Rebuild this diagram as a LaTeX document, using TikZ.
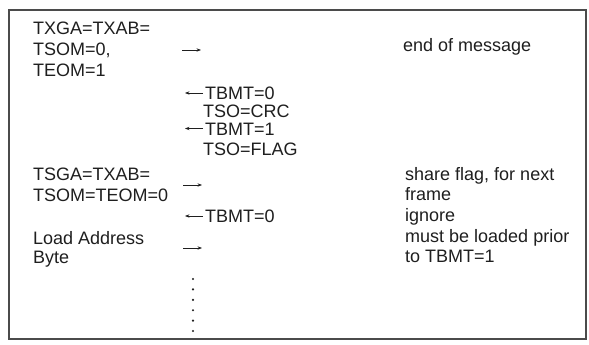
\documentclass[tikz,border=0pt]{standalone}
\usepackage{fontspec}
\setmainfont{Liberation Sans}
\usetikzlibrary{arrows.meta}
\definecolor{ink}{gray}{0.12}
\begin{document}
\begin{tikzpicture}[x=1pt,y=-1pt,
  txt/.style={anchor=base west, inner sep=0pt, font=\fontsize{18}{20}\selectfont, text=ink},
  arr/.style={-{Stealth[length=4.5pt,width=3.4pt]}, line width=0.7pt, draw=ink},
  dotm/.style={circle, fill=ink, inner sep=0pt, minimum size=2.4pt}]
\useasboundingbox (0,0) rectangle (589,345);
\fill[white] (0,0) rectangle (589,345);
\draw[ink!80, line width=1.2pt] (9,10) rectangle (586,339);
% left column
\node[txt] (l1) at (33,34.5) {TXGA=TXAB=};
\node[txt] (l2) at (33,55.5) {TSOM=0,};
\node[txt] (l3) at (33,76.5) {TEOM=1};
\node[txt] (l4) at (33,180.5) {TSGA=TXAB=};
\node[txt] (l5) at (33,201.5) {TSOM=TEOM=0};
\node[txt] (l6) at (33,244.5) {Load Address};
\node[txt] (l7) at (33,263.5) {Byte};
% middle column
\node[txt] (m1) at (205,99.5) {TBMT=0};
\node[txt] (m2) at (203,117) {TSO=CRC};
\node[txt] (m3) at (205,135) {TBMT=1};
\node[txt] (m4) at (203,155) {TSO=FLAG};
\node[txt] (m5) at (205,222.5) {TBMT=0};
% right column
\node[txt] (r1) at (403,51.5) {end of message};
\node[txt] (r2) at (405,180.5) {share flag, for next};
\node[txt] (r3) at (405,200.5) {frame};
\node[txt] (r4) at (405,221.5) {ignore};
\node[txt] (r5) at (405,242.5) {must be loaded prior};
\node[txt] (r6) at (405,262.5) {to TBMT=1};
% arrows
\coordinate (a1s) at (182,50); \coordinate (a1e) at (201,50);
\draw[arr] (a1s) -- (a1e);
\coordinate (a2s) at (183,185); \coordinate (a2e) at (202,185);
\draw[arr] (a2s) -- (a2e);
\coordinate (a3s) at (183,248); \coordinate (a3e) at (202,248);
\draw[arr] (a3s) -- (a3e);
\coordinate (b1s) at (203,93); \coordinate (b1e) at (185,93);
\draw[arr] (b1s) -- (b1e);
\coordinate (b2s) at (203,128.5); \coordinate (b2e) at (185,128.5);
\draw[arr] (b2s) -- (b2e);
\coordinate (b3s) at (203,216); \coordinate (b3e) at (185,216);
\draw[arr] (b3s) -- (b3e);
% dots
\foreach \i in {0,...,5} {
  \node[dotm] (d\i) at (193,{279+10.4*\i}) {};
}
\end{tikzpicture}
\end{document}
